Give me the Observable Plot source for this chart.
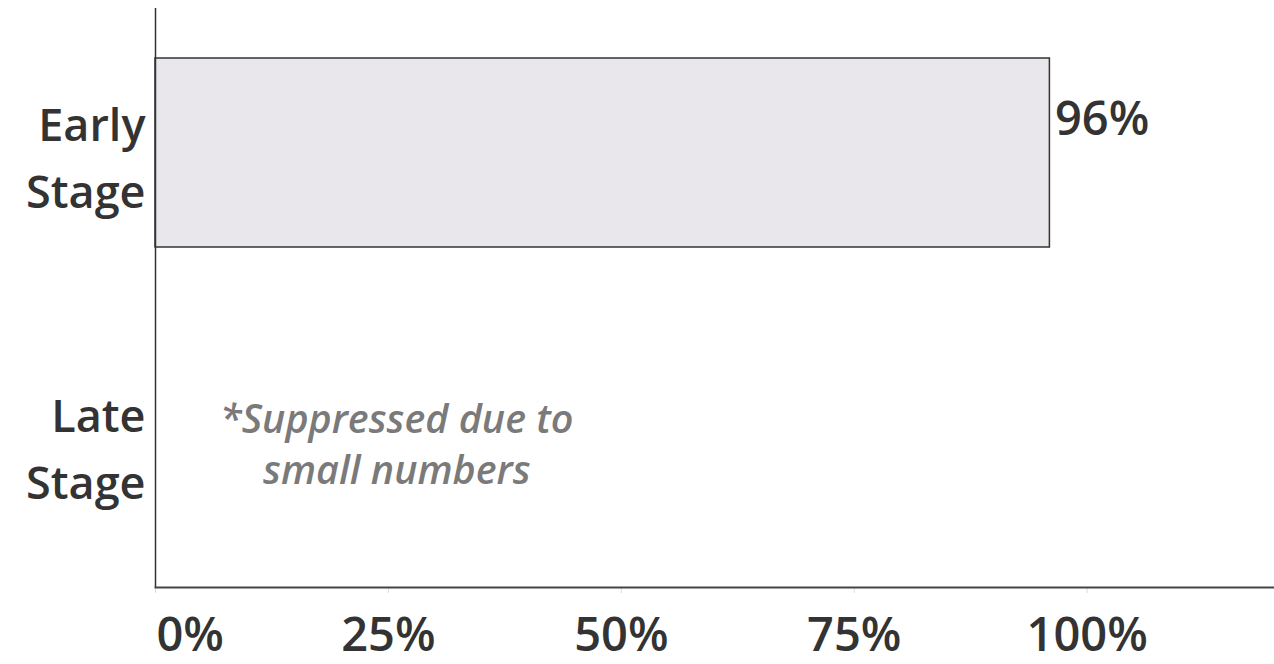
<!DOCTYPE html>
<html>
<head>
<meta charset="utf-8">
<script src="https://cdn.jsdelivr.net/npm/d3@7"></script>
<script src="https://cdn.jsdelivr.net/npm/@observablehq/plot@0.6"></script>
<style>
  html, body { margin: 0; padding: 0; background: #fff; }
  #chart { width: 1274px; height: 664px; }
</style>
</head>
<body>
<div id="chart"></div>
<script>
const stages = ["Early Stage", "Late Stage"];
const stageLabels = ["Early\nStage", "Late\nStage"];
const values = [0.96, null];
const notes = [null, "*Suppressed due to\nsmall numbers"];
const xTicks = [0, 0.25, 0.5, 0.75, 1];

const rows = stages.map((s, i) => ({stage: s, label: stageLabels[i], value: values[i], note: notes[i]}));
const bars = rows.filter(d => d.value != null);
const noteRows = rows.filter(d => d.note != null);
const pct = d => Math.round(d * 100) + "%";

const chart = Plot.plot({
  width: 1274,
  height: 664,
  marginLeft: 155,
  marginRight: 1,
  marginTop: 8,
  marginBottom: 77,
  style: {fontFamily: "'Open Sans', sans-serif", color: "#333", background: "#fff", overflow: "visible"},
  x: {domain: [0, 1.2], axis: null, label: null},
  y: {domain: stages, paddingInner: 0.352, paddingOuter: 0.169, axis: null, label: null},
  marks: [
    Plot.barX(bars, {y: "stage", x: "value", fill: "#e9e7ec", stroke: "#333", strokeWidth: 1.5}),
    Plot.text(bars, {y: "stage", x: "value", text: d => pct(d.value), textAnchor: "start", dx: 5, dy: -33, fontSize: 47, fontWeight: 600, fill: "#333"}),
    Plot.text(rows, {y: "stage", text: "label", frameAnchor: "left", textAnchor: "end", dx: -10, fontSize: 45, fontWeight: 600, lineHeight: 1.5, fill: "#333"}),
    Plot.text(noteRows, {y: "stage", x: 0.259, text: "note", fontSize: 39.5, fontStyle: "italic", fontWeight: 600, lineHeight: 1.3, fill: "#7a7a7a", dy: -2}),
    Plot.axisX({ticks: xTicks, tickSize: 6, stroke: "#ddd", tickFormat: () => "", label: null}),
    Plot.axisX({ticks: [0], tickSize: 0, tickPadding: 30, tickFormat: pct, textAnchor: "start", dx: 1, fontSize: 47, fontWeight: 600, fill: "#333", label: null}),
    Plot.axisX({ticks: xTicks.slice(1), tickSize: 0, tickPadding: 30, tickFormat: pct, fontSize: 47, fontWeight: 600, fill: "#333", label: null}),
    Plot.ruleX([0], {stroke: "#333", strokeWidth: 1.5}),
    Plot.frame({anchor: "bottom", stroke: "#444", strokeWidth: 2})
  ]
});
document.getElementById("chart").appendChild(chart);
</script>
</body>
</html>
